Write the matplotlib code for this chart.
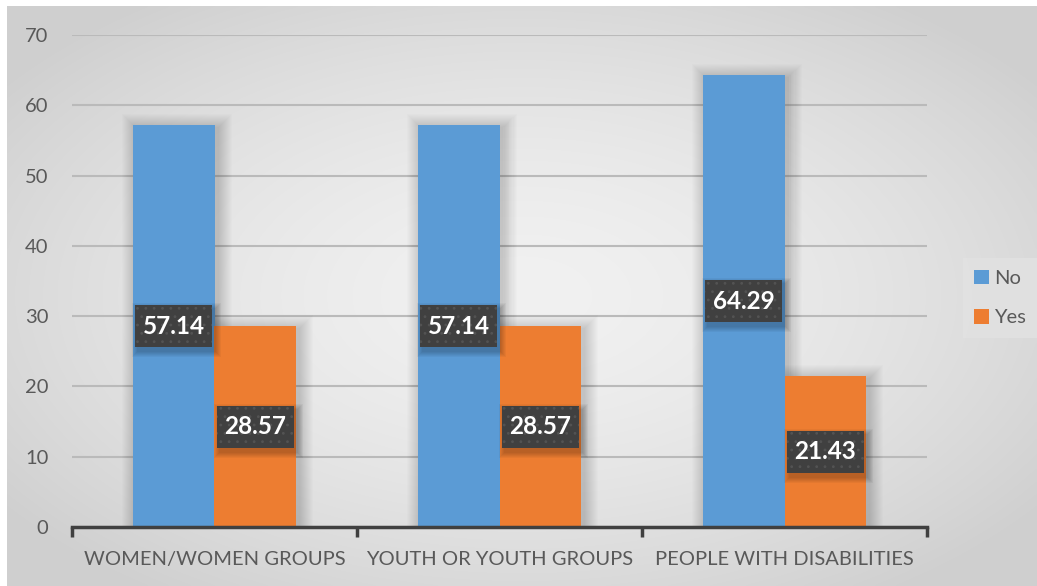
import numpy as np
import matplotlib
matplotlib.use("Agg")
import matplotlib.pyplot as plt
from matplotlib.patches import Rectangle

plt.rcParams['font.family'] = ['Lato', 'DejaVu Sans']
plt.rcParams['hatch.linewidth'] = 0.8

categories = ["WOMEN/WOMEN GROUPS", "YOUTH OR YOUTH GROUPS", "PEOPLE WITH DISABILITIES"]
series_names = ["No", "Yes"]
no_values = [57.14, 57.14, 64.29]
yes_values = [28.57, 28.57, 21.43]
y_ticks = [0, 10, 20, 30, 40, 50, 60, 70]

colors = ["#5b9bd5", "#ed7d31"]
W, H = 1037, 586
fig = plt.figure(figsize=(W / 100, H / 100), dpi=100)
fig.patch.set_facecolor("white")

# radial grey background
bg = fig.add_axes([7 / W, 0, (W - 7) / W, (H - 6) / H])
yy, xx = np.mgrid[0:1:300j, 0:1:500j]
r = np.sqrt(((xx - 0.5) / 0.62) ** 2 + ((yy - 0.5) / 0.62) ** 2)
r = np.clip(r, 0, 1)
shade = 0.945 - 0.13 * r ** 1.6
bg.imshow(np.dstack([shade] * 3), aspect="auto", extent=[0, 1, 0, 1], interpolation="bicubic")
bg.set_axis_off()

left, right, bottom, top = 72, 927, 527, 35
ax = fig.add_axes([left / W, (H - bottom) / H, (right - left) / W, (bottom - top) / H])
ax.set_facecolor("none")
ax.set_xlim(0, 3)
ax.set_ylim(0, 70)

px_x = 3 / (right - left)
px_y = 70 / (bottom - top)

bar_w = 0.285
x = np.arange(len(categories)) + 0.5

# soft shadow behind the bars
for si, vals in enumerate([no_values, yes_values]):
    xs = x + (si - 0.5) * bar_w
    for d in range(14, 0, -1):
        for xc, v in zip(xs, vals):
            ax.add_patch(Rectangle((xc - bar_w / 2 - d * px_x + 3 * px_x, -5),
                                   bar_w + 2 * d * px_x, v + 5 + d * px_y - 3 * px_y,
                                   facecolor="black", alpha=0.011, lw=0, zorder=2))
for si, vals in enumerate([no_values, yes_values]):
    xs = x + (si - 0.5) * bar_w
    ax.bar(xs, vals, width=bar_w, color=colors[si], label=series_names[si], zorder=3)

# value labels in dark boxes at bar centres
bw, bh = 77 * px_x, 42 * px_y
for si, vals in enumerate([no_values, yes_values]):
    xs = x + (si - 0.5) * bar_w
    for xc, v in zip(xs, vals):
        yc = v / 2
        for d in range(6, 0, -1):
            ax.add_patch(Rectangle((xc - bw / 2 + 3 * px_x - d * px_x, yc - bh / 2 - 4 * px_y - d * px_y),
                                   bw + 2 * d * px_x, bh + 2 * d * px_y,
                                   facecolor="black", alpha=0.04, lw=0, zorder=4))
        ax.add_patch(Rectangle((xc - bw / 2, yc - bh / 2), bw, bh, facecolor="#404040",
                               edgecolor="#535353", hatch="..", lw=0, zorder=5))
        ax.text(xc, yc, f"{v:.2f}", ha="center", va="center", color="white",
                fontsize=17.5, fontweight="bold", zorder=6)

ax.set_yticks(y_ticks)
ax.yaxis.grid(True, color="#bababa", lw=1.5, zorder=1)
ax.tick_params(axis="y", length=0, labelsize=14.5, labelcolor="#595959", pad=17)
ax.set_xticks([0, 1, 2, 3])
ax.set_xticklabels([])
ax.set_xticks(x, minor=True)
ax.set_xticklabels(categories, minor=True)
ax.tick_params(axis="x", which="major", length=7, width=2.5, color="#404040", direction="out")
ax.tick_params(axis="x", which="minor", length=0, labelsize=14.5, labelcolor="#595959", pad=17)
for s in ["top", "right", "left"]:
    ax.spines[s].set_visible(False)
ax.spines["bottom"].set_color("#404040")
ax.spines["bottom"].set_linewidth(2.5)
ax.spines["bottom"].set_zorder(7)

handles, labels = ax.get_legend_handles_labels()
leg = fig.legend(handles, labels, loc="center left", bbox_to_anchor=(953 / W, (H - 298) / H),
                 frameon=True, fontsize=14.5, handlelength=0.75, handleheight=0.75,
                 handletextpad=0.25, labelspacing=1.1, borderpad=0.55, fancybox=False)
leg.get_frame().set_facecolor("#e2e2e2")
leg.get_frame().set_edgecolor("none")
for t in leg.get_texts():
    t.set_color("#595959")

fig.savefig("out.png", dpi=100)
